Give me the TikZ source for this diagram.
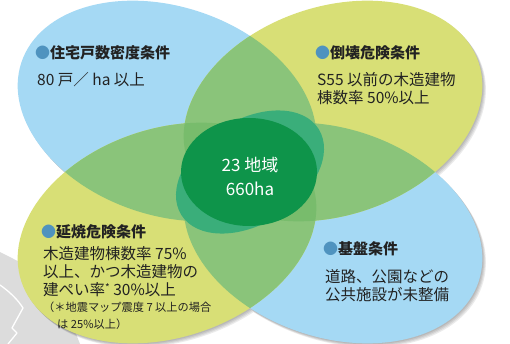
\documentclass[tikz,border=0pt]{standalone}
\usepackage{fontspec}
\newfontfamily\jp{Noto Sans CJK JP}
\usetikzlibrary{shapes.geometric}
\definecolor{cblue}{HTML}{A5D9F4}
\definecolor{cyel}{HTML}{D8DF76}
\definecolor{cgtwo}{HTML}{8AC47A}
\definecolor{cgthree}{HTML}{78BC6C}
\definecolor{cteal}{HTML}{3AAE7A}
\definecolor{cdark}{HTML}{0E944A}
\definecolor{cbul}{HTML}{4F93BF}
\definecolor{ctext}{HTML}{222222}
\definecolor{cgray}{HTML}{DCDCDC}
\tikzset{
  ttl/.style={anchor=base west, inner sep=0, font=\jp\bfseries\fontsize{15}{18}\selectfont, text=ctext},
  body/.style={anchor=base west, inner sep=0, font=\jp\fontsize{15.5}{18}\selectfont, text=ctext},
  note/.style={anchor=base west, inner sep=0, font=\jp\fontsize{11.2}{12}\selectfont, text=ctext},
  ctrtxt/.style={anchor=base, inner sep=0, font=\jp\fontsize{17}{18}\selectfont, text=white},
}
\def\elA{(167,111) ellipse [x radius=153.5, y radius=104.4, rotate=-18.45]}
\def\elB{(333,111) ellipse [x radius=153.5, y radius=104.4, rotate=18.45]}
\def\elC{(167,233) ellipse [x radius=153.5, y radius=104.4, rotate=18.45]}
\def\elD{(333,233) ellipse [x radius=153.5, y radius=104.4, rotate=-18.45]}
\begin{document}
\begin{tikzpicture}[x=1pt,y=-1pt]
\useasboundingbox (0,0) rectangle (510,344);
% gray corner shape
\fill[cgray] (0,252) -- (55,280) -- (80,344) -- (0,344) -- cycle;
\draw[white, line width=1.3pt, line join=round] (0,285) .. controls (10,292) and (18,300) .. (23,308) -- (12,328) -- (17,333) -- (8,344);
% soft shadow
\foreach \k in {1,...,4}{
  \fill[black, opacity=0.08, shift={(\k*0.9,\k*1.0)}] \elA \elB \elC \elD;
}
% base petals
\fill[cblue] \elA;
\fill[cblue] \elD;
\fill[cyel] \elB;
\fill[cyel] \elC;
% two-way overlaps
\begin{scope}\clip \elA; \fill[cgtwo] \elB; \fill[cgtwo] \elC; \end{scope}
\begin{scope}\clip \elD; \fill[cgtwo] \elB; \fill[cgtwo] \elC; \end{scope}
% three-way overlaps
\begin{scope}\clip \elA; \clip \elB; \fill[cgthree] \elC; \fill[cgthree] \elD; \end{scope}
\begin{scope}\clip \elC; \clip \elD; \fill[cgthree] \elA; \fill[cgthree] \elB; \end{scope}
% four-way overlap
\begin{scope}\clip \elA; \clip \elB; \clip \elC; \fill[cteal] \elD; \end{scope}
\fill[cteal] (250,172) ellipse [x radius=81, y radius=52, rotate=32];
% centre
\node[ellipse, fill=cdark, minimum width=136pt, minimum height=108pt, inner sep=0] (ctr) at (249,172) {};
\node[ctrtxt] (c1) at (250,172) {23 地域};
\node[ctrtxt] (c2) at (250,196) {660ha};
% top-left
\node[ttl] (t1) at (35,58.5) {\textcolor{cbul}{●}住宅戸数密度条件};
\node[body] (b1) at (37,85.5) {80 戸／ ha 以上};
% top-right
\node[ttl] (t2) at (315,58.5) {\textcolor{cbul}{●}倒壊危険条件};
\node[body] (b2a) at (317,85.5) {S55 以前の木造建物};
\node[body] (b2b) at (317,103.5) {棟数率 50\%以上};
% bottom-left
\node[ttl] (t3) at (41,237.5) {\textcolor{cbul}{●}延焼危険条件};
\node[body] (b3a) at (43,259.5) {木造建物棟数率 75\%};
\node[body] (b3b) at (43,277.5) {以上、かつ木造建物の};
\node[body] (b3c) at (43,295.5) {建ぺい率\raisebox{4pt}{\fontsize{10}{10}\selectfont *} 30\%以上};
\node[note] (n3a) at (43,311.5) {（＊地震マップ震度 7 以上の場合};
\node[note] (n3b) at (57,328.5) {は 25\%以上）};
% bottom-right
\node[ttl] (t4) at (323,254.5) {\textcolor{cbul}{●}基盤条件};
\node[body] (b4a) at (325,282.5) {道路、公園などの};
\node[body] (b4b) at (325,300.5) {公共施設が未整備};
\end{tikzpicture}
\end{document}
